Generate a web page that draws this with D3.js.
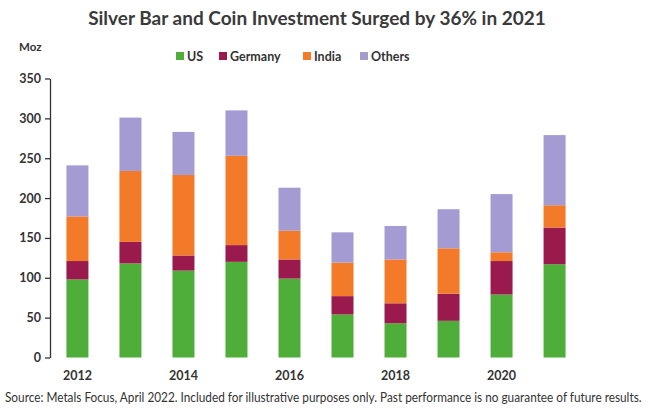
<!DOCTYPE html>
<html>
<head>
<meta charset="utf-8">
<script src="https://cdn.jsdelivr.net/npm/d3@7"></script>
<style>
  html, body { margin: 0; padding: 0; background: #fff; }
  svg { display: block; }
  text { font-family: Lato, "Open Sans", sans-serif; }
</style>
</head>
<body>
<svg id="chart" width="648" height="408"></svg>
<script>
// Silver bar and coin investment by region, million ounces
const years = ["2012","2013","2014","2015","2016","2017","2018","2019","2020","2021"];
const seriesNames = ["US", "Germany", "India", "Others"];
const us      = [98, 118, 109, 120, 99, 54, 43, 46, 79, 117];
const germany = [23, 27, 19, 21, 24, 23, 25, 34, 42, 46];
const india   = [56, 89, 101, 112, 36, 42, 55, 57, 11, 28];
const others  = [64, 67, 54, 57, 54, 38, 42, 49, 73, 88];
const yTicks = [0, 50, 100, 150, 200, 250, 300, 350];
const xLabels = ["2012", "2014", "2016", "2018", "2020"];
const colors = ["#4fae3a", "#9b1a4d", "#f27a28", "#a49bd3"];

const rows = years.map((y, i) => ({
  year: y, US: us[i], Germany: germany[i], India: india[i], Others: others[i]
}));

const svg = d3.select("#chart");
const x = d3.scaleBand().domain(years).range([50, 582])
  .paddingInner(0.585).paddingOuter(0.31);
const y = d3.scaleLinear().domain([0, 350]).range([357.5, 78.5]);

const stack = d3.stack().keys(seriesNames)(rows);

// stacked bars
svg.append("g").selectAll("g").data(stack).join("g")
  .attr("fill", (d, i) => colors[i])
  .selectAll("rect").data(d => d).join("rect")
  .attr("x", d => x(d.data.year))
  .attr("width", x.bandwidth())
  .attr("y", d => y(d[1]))
  .attr("height", d => y(d[0]) - y(d[1]));

// y axis
const yAxis = svg.append("g").attr("transform", "translate(50,0)")
  .call(d3.axisLeft(y).tickValues(yTicks).tickSize(5).tickSizeOuter(0));
yAxis.select(".domain").attr("stroke", "#333").attr("stroke-width", 1.3);
yAxis.selectAll(".tick line").attr("stroke", "#333").attr("stroke-width", 1.3);
yAxis.selectAll(".tick text").attr("x", -9)
  .attr("font-size", 12.5).attr("font-weight", 700).attr("fill", "#333")
  .style("font-family", "Lato, sans-serif");

// x labels every other year
const xAxis = svg.append("g").attr("transform", "translate(0,357.5)")
  .call(d3.axisBottom(x).tickValues(xLabels).tickSize(0));
xAxis.select(".domain").remove();
xAxis.selectAll(".tick text").attr("dy", "1.05em").attr("y", 9)
  .attr("font-size", 12.5).attr("font-weight", 700).attr("fill", "#333");

// unit label
svg.append("text").attr("x", 19).attr("y", 51)
  .attr("font-size", 11.5).attr("font-weight", 700).attr("fill", "#333").text("Moz");

// title
svg.append("text").attr("x", 317).attr("y", 25).attr("text-anchor", "middle")
  .attr("font-size", 19).attr("font-weight", 700).attr("fill", "#3a3a3a")
  .text("Silver Bar and Coin Investment Surged by 36% in 2021");

// legend
const legendX = [176, 219, 303, 360];
const lg = svg.append("g").selectAll("g").data(seriesNames).join("g")
  .attr("transform", (d, i) => `translate(${legendX[i]},56)`);
lg.append("rect").attr("x", 0).attr("y", -4).attr("width", 8).attr("height", 8)
  .attr("fill", (d, i) => colors[i]);
lg.append("text").attr("x", 11).attr("y", 4.5)
  .attr("font-size", 12.5).attr("font-weight", 700).attr("fill", "#333").text(d => d);

// source note, compressed horizontally so the full sentence fits the width
svg.append("text").attr("x", 5).attr("y", 402)
  .attr("font-size", 13.5).attr("fill", "#333")
  .attr("transform", "translate(5,0) scale(0.875,1) translate(-5,0)")
  .text("Source: Metals Focus, April 2022. Included for illustrative purposes only. Past performance is no guarantee of future results.");
</script>
</body>
</html>
